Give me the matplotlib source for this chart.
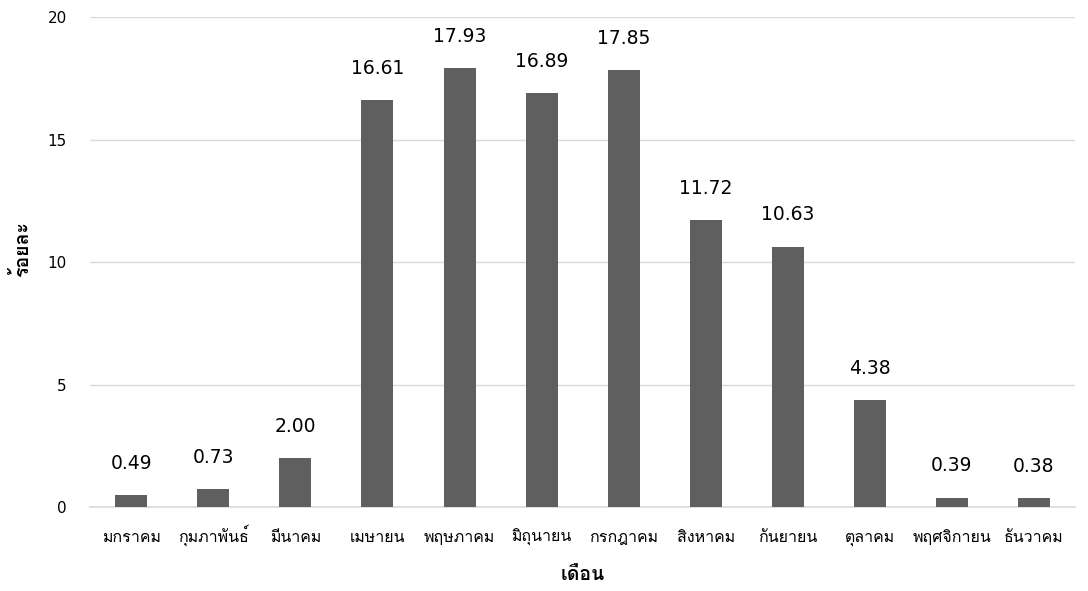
import matplotlib
matplotlib.use("Agg")
import numpy as np
import matplotlib.pyplot as plt

# thai glyphs come from Loma, digits from DejaVu
plt.rcParams['font.family'] = ['DejaVu Sans', 'Loma']

months = ['มกราคม', 'กุมภาพันธ์', 'มีนาคม', 'เมษายน', 'พฤษภาคม', 'มิถุนายน',
          'กรกฎาคม', 'สิงหาคม', 'กันยายน', 'ตุลาคม', 'พฤศจิกายน', 'ธันวาคม']
percent = [0.49, 0.73, 2.00, 16.61, 17.93, 16.89, 17.85, 11.72, 10.63, 4.38, 0.39, 0.38]
yticks = [0, 5, 10, 15, 20]

bar_color = '#5f5f5f'
grid_color = '#d9d9d9'
text_color = '#000000'

fig = plt.figure(figsize=(10.88, 5.91), dpi=100)
ax = fig.add_axes([0.083, 0.142, 0.905, 0.829])

x = np.arange(len(months))
ax.bar(x, percent, width=0.39, color=bar_color, zorder=3)

# value labels above the bars
for xi, v in zip(x, percent):
    ax.annotate('%.2f' % v, (xi, v), xytext=(0, 16), textcoords='offset points',
                ha='center', va='bottom', fontsize=13.5, color=text_color)

ax.set_xlim(-0.5, len(months) - 0.5)
ax.set_ylim(0, 20)
ax.set_yticks(yticks)
ax.set_yticklabels([str(t) for t in yticks])
ax.set_xticks(x)
# baseline alignment so marks above the letters do not push a label down
ax.set_xticklabels(months, fontsize=11.5, va='baseline')
ax.tick_params(axis='y', length=0, pad=17, labelsize=11)
ax.tick_params(axis='x', length=0, pad=25)

ax.grid(axis='y', color=grid_color, linewidth=1, zorder=0)
for s in ['top', 'right', 'left']:
    ax.spines[s].set_visible(False)
ax.spines['bottom'].set_color(grid_color)
ax.spines['bottom'].set_linewidth(1.2)

ax.set_xlabel('เดือน', fontsize=14, fontweight='bold', labelpad=14)
ax.set_ylabel('ร้อยละ', fontsize=14, fontweight='bold')
ax.yaxis.set_label_coords(-0.059, 0.527)

fig.savefig('out.png', dpi=100)
